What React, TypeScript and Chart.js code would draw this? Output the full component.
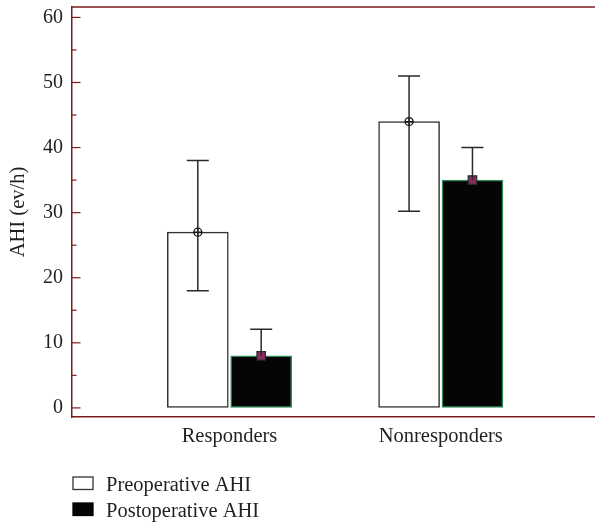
import React, { useEffect, useRef } from 'react';
import { Chart, registerables } from 'chart.js';

Chart.register(...registerables);

const categories = ['Responders', 'Nonresponders'];
const seriesLabels = ['Preoperative AHI', 'Postoperative AHI'];
const preopValues = [27, 44];
const postopValues = [8, 35];
const preopLow = [18, 30.2];
const preopHigh = [38, 51];
const postopHigh = [12.1, 40];
const yTicks = [0, 10, 20, 30, 40, 50, 60];

const FONT = '"Liberation Serif", "DejaVu Serif", serif';
const FRAME = '#7a1c1c';
const INK = '#231f20';
const ERR = '#2a2a2a';
const PAIR_OFFSET = 0.15;
const W = 595;
const H = 524;

const framePlugin = {
  id: 'frameTicksErrLegend',
  afterDatasetsDraw(chart: any) {
    const { ctx, scales } = chart;
    const xs = scales.x;
    const ys = scales.y;
    ctx.save();
    ctx.strokeStyle = ERR;
    ctx.lineWidth = 1.5;
    const cap = 11;
    const drawErr = (x: number, lo: number, hi: number, lowCap: boolean) => {
      const px = xs.getPixelForValue(x);
      const pl = ys.getPixelForValue(lo);
      const ph = ys.getPixelForValue(hi);
      ctx.beginPath();
      ctx.moveTo(px, pl);
      ctx.lineTo(px, ph);
      ctx.moveTo(px - cap, ph);
      ctx.lineTo(px + cap, ph);
      if (lowCap) {
        ctx.moveTo(px - cap, pl);
        ctx.lineTo(px + cap, pl);
      }
      ctx.stroke();
    };
    categories.forEach((_, i) => {
      drawErr(i - PAIR_OFFSET, preopLow[i], preopHigh[i], true);
      drawErr(i + PAIR_OFFSET, postopValues[i], postopHigh[i], false);
    });
    ctx.restore();
  },
  afterDraw(chart: any) {
    const { ctx, chartArea, scales } = chart;
    const ys = scales.y;
    ctx.save();
    ctx.strokeStyle = FRAME;
    ctx.lineWidth = 1.5;
    ctx.beginPath();
    ctx.moveTo(chartArea.left, chartArea.top);
    ctx.lineTo(chartArea.right, chartArea.top);
    ctx.stroke();
    ctx.lineWidth = 1.2;
    yTicks.forEach((v, i) => {
      const py = ys.getPixelForValue(v);
      ctx.beginPath();
      ctx.moveTo(chartArea.left, py);
      ctx.lineTo(chartArea.left + 8.5, py);
      ctx.stroke();
      if (i < yTicks.length - 1) {
        const pm = ys.getPixelForValue((v + yTicks[i + 1]) / 2);
        ctx.beginPath();
        ctx.moveTo(chartArea.left, pm);
        ctx.lineTo(chartArea.left + 4.5, pm);
        ctx.stroke();
      }
    });
    const items = [
      { fill: '#ffffff', stroke: '#333333' },
      { fill: '#050505', stroke: '#050505' },
    ];
    const boxX = 73;
    const boxY = [477, 503];
    ctx.font = `20.5px ${FONT}`;
    ctx.textBaseline = 'alphabetic';
    ctx.textAlign = 'left';
    items.forEach((it, i) => {
      ctx.fillStyle = it.fill;
      ctx.fillRect(boxX, boxY[i], 20, 12.5);
      ctx.strokeStyle = it.stroke;
      ctx.lineWidth = 1.3;
      ctx.strokeRect(boxX, boxY[i], 20, 12.5);
      ctx.fillStyle = INK;
      ctx.fillText(chart.data.datasets[i].label, 106, boxY[i] + 14);
    });
    ctx.restore();
  },
};

export default function App() {
  const ref = useRef<HTMLCanvasElement | null>(null);
  useEffect(() => {
    if (!ref.current) return;
    const preXY = categories.map((_, i) => ({ x: i - PAIR_OFFSET, y: preopValues[i] }));
    const postXY = categories.map((_, i) => ({ x: i + PAIR_OFFSET, y: postopValues[i] }));
    const chart = new Chart(ref.current, {
      type: 'bar',
      data: {
        datasets: [
          {
            label: seriesLabels[0],
            data: preXY,
            backgroundColor: '#ffffff',
            borderColor: '#333333',
            borderWidth: 1.5,
            borderSkipped: false,
            barThickness: 61,
            grouped: false,
            order: 2,
          } as any,
          {
            label: seriesLabels[1],
            data: postXY,
            backgroundColor: '#050505',
            borderColor: '#2e8b57',
            borderWidth: 1.5,
            borderSkipped: false,
            barThickness: 61,
            grouped: false,
            order: 2,
          } as any,
          {
            type: 'line',
            label: 'preMean',
            data: preXY,
            showLine: false,
            pointStyle: 'circle',
            pointRadius: 4,
            pointBorderWidth: 1.3,
            pointBorderColor: '#111111',
            pointBackgroundColor: 'rgba(255,255,255,0)',
            order: 1,
          } as any,
          {
            type: 'line',
            label: 'preMeanCross',
            data: preXY,
            showLine: false,
            pointStyle: 'cross',
            pointRadius: 4,
            pointBorderWidth: 1.3,
            pointBorderColor: '#111111',
            order: 1,
          } as any,
          {
            type: 'line',
            label: 'postMean',
            data: postXY,
            showLine: false,
            pointStyle: 'rect',
            pointRadius: 6,
            pointBorderWidth: 1.2,
            pointBorderColor: '#2a2a2a',
            pointBackgroundColor: '#8e2a62',
            order: 1,
          } as any,
        ],
      },
      options: {
        responsive: false,
        animation: false,
        events: [],
        layout: { autoPadding: false, padding: { top: 7, left: 0, right: 0, bottom: 0 } },
        plugins: {
          legend: { display: false },
          tooltip: { enabled: false },
        },
        scales: {
          x: {
            type: 'linear',
            offset: false,
            bounds: 'data',
            min: -0.7455,
            max: 1.73,
            afterBuildTicks: (s: any) => {
              s.ticks = categories.map((_, i) => ({ value: i }));
            },
            ticks: {
              callback: (v: any) => categories[Number(v)] ?? '',
              font: { family: FONT, size: 20.5 },
              color: INK,
              padding: 7,
              maxRotation: 0,
              autoSkip: false,
            },
            grid: { drawOnChartArea: false, drawTicks: false },
            border: { color: FRAME, width: 1.5 },
            afterFit: (s: any) => {
              s.height = 107;
              s.paddingLeft = 0;
              s.paddingRight = 0;
            },
          } as any,
          y: {
            type: 'linear',
            min: -1.4,
            max: 61.6,
            afterBuildTicks: (s: any) => {
              s.ticks = yTicks.map((v) => ({ value: v }));
            },
            ticks: {
              font: { family: FONT, size: 20 },
              color: INK,
              padding: 9,
            },
            grid: { drawOnChartArea: false, drawTicks: false },
            border: { color: FRAME, width: 1.5 },
            title: {
              display: true,
              text: 'AHI (ev/h)',
              font: { family: FONT, size: 20.5 },
              color: INK,
              padding: { top: 6, bottom: 0 },
            },
            afterFit: (s: any) => {
              s.width = 72;
              s.paddingTop = 0;
              s.paddingBottom = 0;
            },
          } as any,
        },
      },
      plugins: [framePlugin],
    });
    return () => chart.destroy();
  }, []);
  return (
    <div style={{ position: 'absolute', left: 0, top: 0, width: W, height: H, overflow: 'hidden', background: '#fff' }}>
      <canvas ref={ref} width={W} height={H} style={{ width: W, height: H, display: 'block' }} />
    </div>
  );
}
